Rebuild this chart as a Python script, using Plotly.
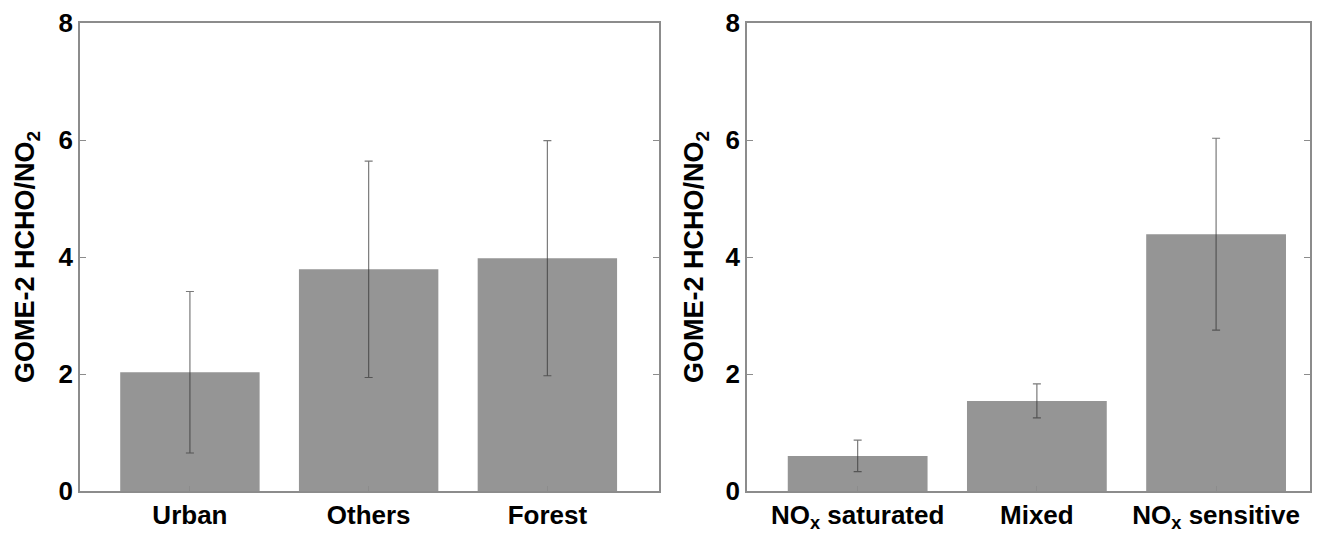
import plotly.graph_objects as go

# Left panel: land-cover types
left_categories = ["Urban", "Others", "Forest"]
left_values = [2.03, 3.79, 3.98]
left_errors = [1.38, 1.85, 2.01]

# Right panel: ozone-production regimes
right_categories = ["NO<sub>x</sub> saturated", "Mixed", "NO<sub>x</sub> sensitive"]
right_values = [0.60, 1.54, 4.39]
right_errors = [0.27, 0.29, 1.64]

y_ticks = [0, 2, 4, 6, 8]
y_title = "GOME-2 HCHO/NO<sub>2</sub>"

BAR = "#959595"
ERR = "rgba(50,50,50,0.65)"
FRAME = "#8c8c8c"
FONT = "Liberation Sans, Arial, sans-serif"
TICKFONT = dict(family=FONT, size=26, color="black", weight="bold")

fig = go.Figure()
fig.add_trace(go.Bar(
    x=left_categories, y=left_values, width=0.78,
    marker=dict(color=BAR, line=dict(width=0)),
    error_y=dict(type="data", array=left_errors, color=ERR, thickness=1.2, width=4),
    xaxis="x", yaxis="y", showlegend=False))
fig.add_trace(go.Bar(
    x=right_categories, y=right_values, width=0.78,
    marker=dict(color=BAR, line=dict(width=0)),
    error_y=dict(type="data", array=right_errors, color=ERR, thickness=1.2, width=4),
    xaxis="x2", yaxis="y2", showlegend=False))

common_x = dict(showline=True, linecolor=FRAME, linewidth=1.5, mirror=True,
                ticks="inside", ticklen=5, tickcolor=FRAME, showgrid=False,
                tickfont=TICKFONT, ticklabeloverflow="allow")
common_y = dict(range=[0, 8], tickvals=y_ticks, showline=True, linecolor=FRAME,
                linewidth=1.5, mirror="ticks", ticks="inside", ticklen=6,
                tickcolor=FRAME, showgrid=False, zeroline=False,
                tickfont=TICKFONT, ticklabeloverflow="allow")

fig.update_layout(
    width=1304, height=534,
    margin=dict(l=72, r=0, t=13, b=51),
    paper_bgcolor="white", plot_bgcolor="white",
    xaxis=dict(domain=[0, 0.4708], range=[-0.615, 2.625], anchor="y", **common_x),
    yaxis=dict(anchor="x", **common_y),
    xaxis2=dict(domain=[0.5422, 1.0], range=[-0.618, 2.524], anchor="y2", **common_x),
    yaxis2=dict(anchor="x2", **common_y),
    annotations=[
        dict(text=y_title, textangle=-90, xref="paper", yref="paper",
             x=-0.043, y=0.5, xanchor="center", yanchor="middle", showarrow=False,
             font=dict(family=FONT, size=27, color="black", weight="bold")),
        dict(text=y_title, textangle=-90, xref="paper", yref="paper",
             x=0.5008, y=0.5, xanchor="center", yanchor="middle", showarrow=False,
             font=dict(family=FONT, size=27, color="black", weight="bold")),
    ],
)

fig.write_html("out.html")
